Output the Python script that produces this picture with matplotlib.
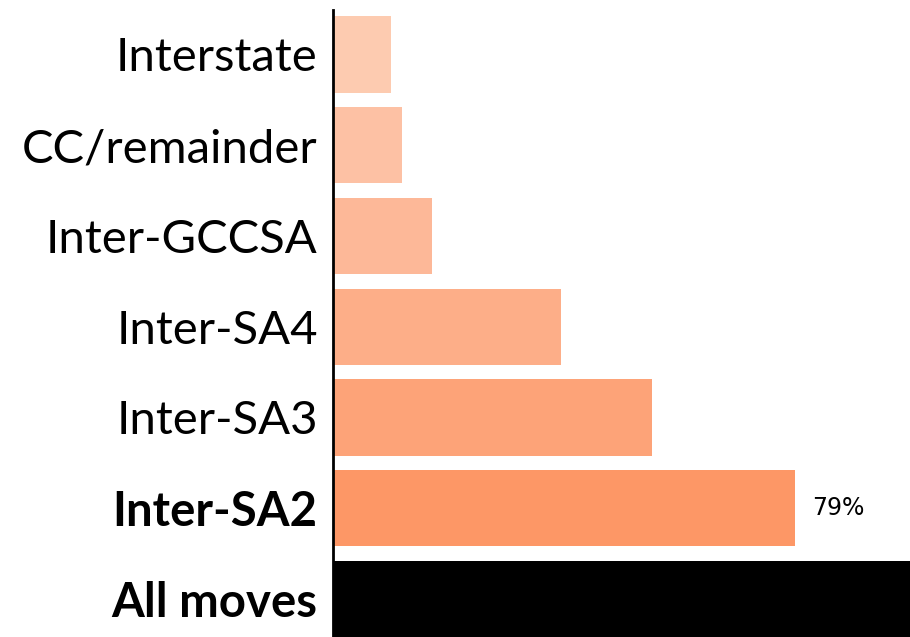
import matplotlib
matplotlib.use("Agg")
import matplotlib.pyplot as plt
import numpy as np

# bottom to top
CATEGORIES = ["All moves", "Inter-SA2", "Inter-SA3", "Inter-SA4",
              "Inter-GCCSA", "CC/remainder", "Interstate"]
SHARE = [100, 79, 54.5, 39, 16.9, 11.8, 9.9]
COLOURS = ["#000000", "#FD9766", "#FDA378", "#FDAE88", "#FDB898", "#FDC1A4", "#FDCBB0"]
BOLD = {"All moves", "Inter-SA2"}

fig = plt.figure(figsize=(9.1, 6.37), dpi=100)
ax = fig.add_axes([333 / 910, 0, 1 - 333 / 910, 627 / 637])

y = np.arange(len(CATEGORIES))
ax.barh(y, SHARE, height=0.84, color=COLOURS)
ax.set_xlim(0, 577 / (462 / 79))
ax.set_ylim(-0.42, 6.49)

ax.set_yticks(y)
ax.set_yticklabels(CATEGORIES, fontsize=34, family="Lato")
for lab in ax.get_yticklabels():
    if lab.get_text() in BOLD:
        lab.set_fontweight("bold")
ax.tick_params(axis="y", length=0, pad=11)
ax.set_xticks([])
for s in ("top", "right", "bottom"):
    ax.spines[s].set_visible(False)
ax.spines["left"].set_linewidth(2)

ax.text(SHARE[1] + 3, 1, f"{SHARE[1]:.0f}%", va="center", ha="left", fontsize=17)

fig.savefig("out.png", dpi=100)
